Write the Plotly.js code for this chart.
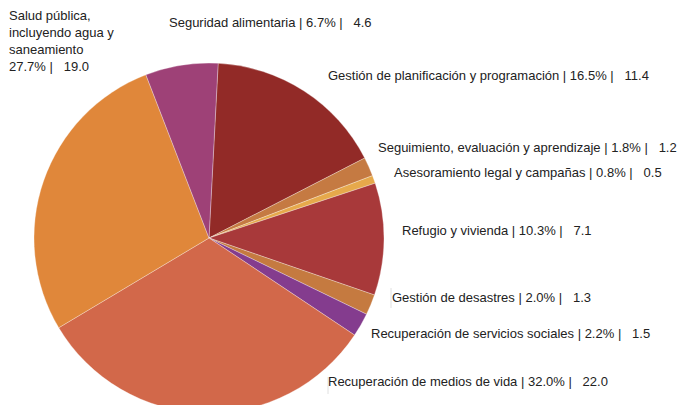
<!DOCTYPE html>
<html>
<head>
<meta charset="utf-8">
<script src="https://cdn.plot.ly/plotly-3.0.1.min.js"></script>
<style>
  html, body { margin: 0; padding: 0; overflow: hidden; background: #fff; }
  #chart { width: 691px; height: 413px; }
</style>
</head>
<body>
<div id="chart"></div>
<script>
// sectors, clockwise from the top
const sectors = [
  "Gestión de planificación y programación",
  "Seguimiento, evaluación y aprendizaje",
  "Asesoramiento legal y campañas",
  "Refugio y vivienda",
  "Gestión de desastres",
  "Recuperación de servicios sociales",
  "Recuperación de medios de vida",
  "Salud pública, incluyendo agua y saneamiento",
  "Seguridad alimentaria",
];
const amounts = [11.4, 1.2, 0.5, 7.1, 1.3, 1.5, 22.0, 19.0, 4.6];
const shares = ["16.5%", "1.8%", "0.8%", "10.3%", "2.0%", "2.2%", "32.0%", "27.7%", "6.7%"];
const sliceColors = [
  "#922a27", "#c57a42", "#e6a94b", "#a8393a", "#c57a40",
  "#843c8e", "#d2684a", "#e0873a", "#9e4177",
];

// label placement in pixels (left edge, vertical middle)
const labelPos = [
  [326, 75], [376, 148], [392, 173], [400, 230], [390, 297],
  [369, 333], [326, 381], [7, 41], [167, 22],
];

const W = 691, H = 413;
const gap = "\u00a0\u00a0\u00a0";

const annotations = sectors.map((name, i) => {
  let text = name + " | " + shares[i] + " |" + gap + amounts[i].toFixed(1);
  if (i === 7) {
    text = "Salud pública,<br>incluyendo agua y<br>saneamiento<br>" +
      shares[i] + " |" + gap + amounts[i].toFixed(1);
  }
  return {
    text: text,
    xref: "paper", yref: "paper",
    x: labelPos[i][0] / W,
    y: 1 - labelPos[i][1] / H,
    xanchor: "left", yanchor: "middle",
    align: "left",
    showarrow: false,
    font: { family: "Liberation Sans, Arial, sans-serif", size: 13, color: "#222" },
  };
});

// faint leader ticks next to a few labels
const ticks = [[391, 288, 308], [328, 377, 394]];
const shapes = ticks.map((t) => ({
  type: "line", xref: "paper", yref: "paper",
  x0: t[0] / W, x1: t[0] / W, y0: 1 - t[1] / H, y1: 1 - t[2] / H,
  line: { color: "#e0e0e0", width: 1 },
}));

const trace = {
  type: "pie",
  labels: sectors,
  values: amounts,
  sort: false,
  direction: "clockwise",
  rotation: 3,
  textinfo: "none",
  hoverinfo: "label+value+percent",
  marker: { colors: sliceColors, line: { color: "rgba(255,255,255,0.5)", width: 0.6 } },
  domain: { x: [34 / W, 384 / W], y: [0, 350 / H] },
};

const layout = {
  width: W,
  height: H,
  margin: { l: 0, r: 0, t: 0, b: 0 },
  showlegend: false,
  paper_bgcolor: "#fff",
  annotations: annotations,
  shapes: shapes,
};

Plotly.newPlot("chart", [trace], layout, { displayModeBar: false, staticPlot: true });
</script>
</body>
</html>
